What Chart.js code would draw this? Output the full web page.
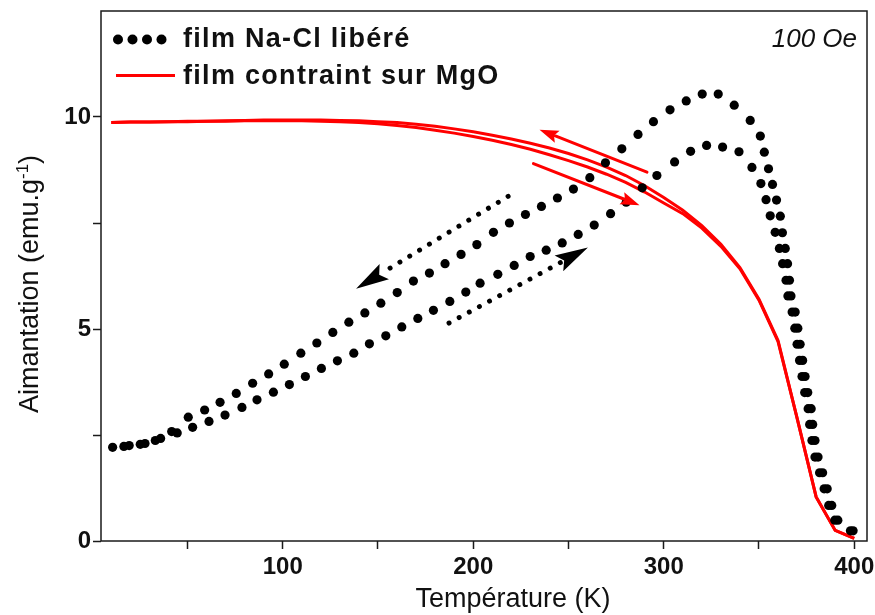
<!DOCTYPE html>
<html>
<head>
<meta charset="utf-8">
<script src="https://cdn.jsdelivr.net/npm/chart.js@4.4.1/dist/chart.umd.min.js"></script>
<style>
    html, body { margin: 0; padding: 0; background: #fff; }
    #wrap { width: 875px; height: 615px; }
</style>
</head>
<body>
<div id="wrap"><canvas id="magChart" width="875" height="615"></canvas></div>
<script>
// Film Na-Cl libéré - branche haute (refroidissement)
const naclCoolT = [10.7, 16.6, 25.2, 33.1, 41.7, 50.4, 59.0, 67.1, 75.6, 84.2, 92.6, 100.8, 109.5, 117.9, 126.3,
    134.7, 143.1, 151.5, 160.1, 168.6, 177.0, 185.2, 193.6, 201.9, 210.6, 219.0, 227.4, 235.8, 244.2, 252.6,
    261.2, 269.4, 278.0, 286.5, 294.6, 303.3, 311.8, 320.2, 328.6, 337.0, 345.4, 350.7, 352.8, 355.0, 357.1,
    359.2, 361.2, 362.3, 363.8, 365.0, 366.0, 366.8, 369.0, 370.4, 371.6, 372.9, 374.2, 375.6, 377.4, 378.2,
    379.4, 381.0, 383.4, 385.8, 388.2, 391.4, 399.4];
const naclCoolM = [2.21, 2.23, 2.28, 2.37, 2.58, 2.92, 3.09, 3.27, 3.48, 3.72, 3.94, 4.17, 4.43, 4.67, 4.92,
    5.16, 5.38, 5.61, 5.86, 6.13, 6.32, 6.54, 6.76, 6.99, 7.28, 7.50, 7.70, 7.89, 8.09, 8.30,
    8.57, 8.92, 9.25, 9.59, 9.89, 10.17, 10.38, 10.54, 10.54, 10.28, 9.92, 9.55, 9.17, 8.78, 8.41,
    8.04, 7.66, 7.27, 6.90, 6.54, 6.15, 5.78, 5.40, 5.02, 4.64, 4.26, 3.88, 3.50, 3.12, 2.75,
    2.37, 1.98, 1.61, 1.23, 0.84, 0.49, 0.24];

// Film Na-Cl libéré - branche basse (réchauffement)
const naclWarmT = [19.4, 27.7, 35.9, 44.6, 52.7, 61.3, 69.7, 78.6, 86.5, 95.1, 103.5, 111.9, 120.3, 128.7, 137.3,
    145.5, 154.1, 162.5, 170.9, 179.1, 187.7, 196.1, 203.6, 212.9, 221.5, 229.9, 238.3, 246.7, 255.1, 263.5,
    272.1, 280.3, 288.7, 296.4, 305.7, 314.1, 322.5, 330.9, 339.5, 346.3, 351.0, 353.7, 355.9, 358.5, 360.7,
    362.4, 364.2, 365.2, 367.4, 368.8, 370.0, 371.3, 372.6, 374.0, 375.8, 376.6, 377.8, 379.4, 381.8, 384.2,
    386.6, 389.8, 398.0];
const naclWarmM = [2.25, 2.30, 2.42, 2.55, 2.68, 2.82, 2.97, 3.15, 3.33, 3.51, 3.69, 3.88, 4.07, 4.25, 4.43,
    4.65, 4.84, 5.05, 5.25, 5.44, 5.65, 5.87, 6.08, 6.29, 6.50, 6.71, 6.86, 7.03, 7.23, 7.45,
    7.72, 7.99, 8.33, 8.62, 8.94, 9.19, 9.33, 9.29, 9.18, 8.81, 8.43, 8.05, 7.67, 7.28, 6.90,
    6.54, 6.15, 5.78, 5.40, 5.02, 4.64, 4.26, 3.88, 3.50, 3.12, 2.75, 2.37, 1.98, 1.61, 1.23,
    0.84, 0.49, 0.24];

// Film contraint sur MgO (deux branches)
const mgoT = [10, 20, 30, 40, 50, 60, 70, 80, 90, 100, 110, 120, 130, 140, 150, 160, 170, 180, 190, 200,
    210, 220, 230, 240, 250, 260, 270, 280, 290, 300, 310, 320, 330, 340, 350, 360, 370, 380, 390, 400];
const mgoCoolM = [9.87, 9.88, 9.88, 9.89, 9.90, 9.90, 9.91, 9.92, 9.93, 9.93, 9.93, 9.93, 9.92, 9.91, 9.89,
    9.87, 9.83, 9.78, 9.72, 9.65, 9.57, 9.48, 9.38, 9.27, 9.14, 8.99, 8.82, 8.62, 8.38, 8.10,
    7.80, 7.44, 7.00, 6.45, 5.70, 4.73, 2.90, 1.04, 0.25, 0.06];
const mgoWarmM = [9.87, 9.88, 9.88, 9.89, 9.89, 9.90, 9.90, 9.91, 9.91, 9.91, 9.91, 9.90, 9.89, 9.87, 9.84,
    9.80, 9.75, 9.69, 9.62, 9.54, 9.45, 9.35, 9.24, 9.11, 8.97, 8.82, 8.65, 8.46, 8.23, 7.97,
    7.72, 7.38, 6.95, 6.42, 5.68, 4.70, 2.90, 1.04, 0.25, 0.06];

// Graduations
const xTicks = [50, 100, 150, 200, 250, 300, 350, 400];
const yTicks = [0, 2.5, 5, 7.5, 10];
const legendLabels = ['film Na-Cl libéré', 'film contraint sur MgO'];
const fieldLabel = '100 Oe';

const FONT = '"Liberation Sans", Arial, sans-serif';

function toPoints(xs, ys) {
    return xs.map(function (x, i) { return { x: x, y: ys[i] }; });
}

// Arrow helper (positions in data units, converted through the scales)
function drawArrow(ctx, x0, y0, x1, y1, o) {
    const ang = Math.atan2(y1 - y0, x1 - x0);
    const c = Math.cos(ang), s = Math.sin(ang);
    const bx = x1 - c * o.head, by = y1 - s * o.head;
    ctx.save();
    ctx.strokeStyle = o.color;
    ctx.fillStyle = o.color;
    ctx.lineWidth = o.width;
    ctx.lineCap = 'round';
    if (o.dotted) ctx.setLineDash([0.01, o.gap]);
    ctx.beginPath();
    ctx.moveTo(x0, y0);
    ctx.lineTo(bx + c * 2, by + s * 2);
    ctx.stroke();
    ctx.setLineDash([]);
    ctx.beginPath();
    ctx.moveTo(x1, y1);
    ctx.lineTo(bx - s * o.half, by + c * o.half);
    ctx.lineTo(x1 - c * o.head * 0.82, y1 - s * o.head * 0.82);
    ctx.lineTo(bx + s * o.half, by - c * o.half);
    ctx.closePath();
    ctx.fill();
    ctx.restore();
}

const overlayPlugin = {
    id: 'overlay',
    beforeDraw(chart) {
        const ctx = chart.ctx;
        ctx.save();
        ctx.fillStyle = '#fff';
        ctx.fillRect(0, 0, chart.width, chart.height);
        ctx.restore();
    },
    afterDatasetsDraw(chart) {
        const ctx = chart.ctx;
        const xs = chart.scales.x, ys = chart.scales.y;
        const arrows = [
            { from: [218.3, 8.13], to: [138.5, 5.95], color: '#000', width: 5, dotted: true, gap: 11.5, head: 33, half: 9 },
            { from: [187.3, 5.14], to: [260.2, 6.92], color: '#000', width: 5, dotted: true, gap: 11.5, head: 33, half: 9 },
            { from: [291.2, 8.70], to: [234.8, 9.70], color: '#ff0000', width: 3, dotted: false, head: 19, half: 6.5 },
            { from: [231.6, 8.90], to: [287.3, 7.92], color: '#ff0000', width: 3, dotted: false, head: 19, half: 6.5 }
        ];
        arrows.forEach(function (a) {
            drawArrow(ctx,
                xs.getPixelForValue(a.from[0]), ys.getPixelForValue(a.from[1]),
                xs.getPixelForValue(a.to[0]), ys.getPixelForValue(a.to[1]), a);
        });
    },
    afterDraw(chart) {
        const ctx = chart.ctx;
        const area = chart.chartArea;
        ctx.save();

        // Frame
        ctx.strokeStyle = '#1a1a1a';
        ctx.lineWidth = 1.5;
        ctx.strokeRect(area.left, area.top, area.right - area.left, area.bottom - area.top);

        // Legend
        ctx.fillStyle = '#000';
        [118, 132.5, 147, 161.5].forEach(function (x) {
            ctx.beginPath();
            ctx.arc(x, 39.5, 5, 0, Math.PI * 2);
            ctx.fill();
        });
        ctx.strokeStyle = '#ff0000';
        ctx.lineWidth = 3;
        ctx.beginPath();
        ctx.moveTo(116, 75.5);
        ctx.lineTo(175, 75.5);
        ctx.stroke();

        ctx.fillStyle = '#111';
        ctx.font = 'bold 27px ' + FONT;
        ctx.textAlign = 'left';
        ctx.textBaseline = 'alphabetic';
        if ('letterSpacing' in ctx) ctx.letterSpacing = '1.3px';
        ctx.fillText(legendLabels[0], 183, 47);
        ctx.fillText(legendLabels[1], 183, 83.5);
        if ('letterSpacing' in ctx) ctx.letterSpacing = '0px';

        // Field annotation
        ctx.font = 'italic 26px ' + FONT;
        ctx.textAlign = 'right';
        ctx.fillText(fieldLabel, 857, 47);

        // X axis title
        ctx.font = '27px ' + FONT;
        ctx.textAlign = 'center';
        ctx.fillText('Température (K)', 513, 607);

        // Y axis title with superscript
        ctx.translate(38, 284);
        ctx.rotate(-Math.PI / 2);
        const main = 'Aimantation (emu.g';
        ctx.font = '27px ' + FONT;
        const wMain = ctx.measureText(main).width;
        ctx.font = '17px ' + FONT;
        const wSup = ctx.measureText('-1').width;
        ctx.font = '27px ' + FONT;
        const wClose = ctx.measureText(')').width;
        let x = -(wMain + wSup + wClose) / 2;
        ctx.textAlign = 'left';
        ctx.fillText(main, x, 0);
        x += wMain;
        ctx.font = '17px ' + FONT;
        ctx.fillText('-1', x, -10);
        x += wSup;
        ctx.font = '27px ' + FONT;
        ctx.fillText(')', x, 0);

        ctx.restore();
    }
};

const ctx = document.getElementById('magChart');
const magChart = new Chart(ctx.getContext('2d'), {
    type: 'scatter',
    data: {
        datasets: [
            {
                label: 'film Na-Cl libéré (refroidissement)',
                data: toPoints(naclCoolT, naclCoolM),
                showLine: false,
                pointRadius: 4.6,
                pointBorderWidth: 0,
                pointBackgroundColor: '#000',
                order: 1
            },
            {
                label: 'film Na-Cl libéré (réchauffement)',
                data: toPoints(naclWarmT, naclWarmM),
                showLine: false,
                pointRadius: 4.6,
                pointBorderWidth: 0,
                pointBackgroundColor: '#000',
                order: 1
            },
            {
                label: 'film contraint sur MgO (refroidissement)',
                data: toPoints(mgoT, mgoCoolM),
                showLine: true,
                borderColor: '#ff0000',
                borderWidth: 3,
                pointRadius: 0,
                tension: 0,
                order: 2
            },
            {
                label: 'film contraint sur MgO (réchauffement)',
                data: toPoints(mgoT, mgoWarmM),
                showLine: true,
                borderColor: '#ff0000',
                borderWidth: 3,
                pointRadius: 0,
                tension: 0,
                order: 2
            }
        ]
    },
    options: {
        responsive: false,
        animation: false,
        layout: {
            padding: { left: 0, top: 11, right: 8, bottom: 0 }
        },
        plugins: {
            legend: { display: false },
            tooltip: { enabled: false }
        },
        scales: {
            x: {
                type: 'linear',
                min: 4.6,
                max: 406.7,
                border: { display: false },
                grid: {
                    drawOnChartArea: false,
                    drawTicks: true,
                    tickLength: 8,
                    tickWidth: 1.5,
                    tickColor: '#1a1a1a'
                },
                afterBuildTicks: function (scale) {
                    scale.ticks = xTicks.map(function (v) { return { value: v }; });
                },
                afterFit: function (scale) {
                    scale.height = 74;
                    scale.paddingLeft = 0;
                    scale.paddingRight = 0;
                },
                ticks: {
                    autoSkip: false,
                    maxRotation: 0,
                    padding: 4,
                    color: '#111',
                    font: { family: FONT, size: 24, weight: 'bold' },
                    callback: function (v) { return v % 100 === 0 ? v : ''; }
                }
            },
            y: {
                type: 'linear',
                min: 0,
                max: 12.5,
                border: { display: false },
                grid: {
                    drawOnChartArea: false,
                    drawTicks: true,
                    tickLength: 8,
                    tickWidth: 1.5,
                    tickColor: '#1a1a1a'
                },
                afterBuildTicks: function (scale) {
                    scale.ticks = yTicks.map(function (v) { return { value: v }; });
                },
                afterFit: function (scale) {
                    scale.width = 101;
                    scale.paddingTop = 0;
                    scale.paddingBottom = 0;
                },
                ticks: {
                    autoSkip: false,
                    padding: 2,
                    color: '#111',
                    font: { family: FONT, size: 24, weight: 'bold' },
                    callback: function (v) { return v % 5 === 0 ? v : ''; }
                }
            }
        }
    },
    plugins: [overlayPlugin]
});
</script>
</body>
</html>
